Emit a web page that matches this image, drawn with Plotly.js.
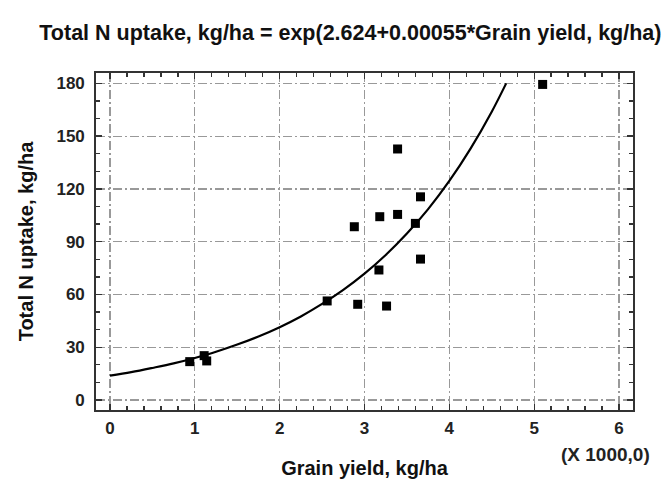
<!DOCTYPE html>
<html>
<head>
<meta charset="utf-8">
<script src="https://cdn.plot.ly/plotly-3.0.1.min.js"></script>
<style>html,body{margin:0;padding:0;background:#fff}#chart{width:670px;height:479px}</style>
</head>
<body>
<div id="chart"></div>
<script>
// Observed points: grain yield (x 1000 kg/ha), total N uptake (kg/ha)
const grainYield = [0.94, 1.14, 1.11, 2.56, 2.92, 3.26, 3.17, 3.66, 2.88, 3.18, 3.39, 3.60, 3.66, 3.39, 5.10];
const nUptake    = [21.8, 22.2, 25.2, 56.3, 54.4, 53.4, 73.9, 80.1, 98.5, 104.2, 105.5, 100.4, 115.5, 142.7, 179.4];

// Fitted curve read along its path
const curveX = [0, 0.25, 0.5, 0.75, 1.0, 1.25, 1.5, 1.75, 2.0, 2.25, 2.5, 2.75, 3.0, 3.25, 3.5, 3.75, 4.0, 4.25, 4.5, 4.67];
const curveY = [13.8, 15.8, 18.2, 20.8, 23.9, 27.4, 31.5, 36.1, 41.4, 47.5, 54.6, 62.6, 71.8, 82.4, 94.6, 108.5, 124.5, 142.9, 163.9, 180.0];

const xTicks = [0, 1, 2, 3, 4, 5, 6];
const yTicks = [0, 30, 60, 90, 120, 150, 180];

const titleText = 'Total N uptake, kg/ha = exp(2.624+0.00055*Grain yield, kg/ha)';
const xTitle = 'Grain yield, kg/ha';
const yTitle = 'Total N uptake, kg/ha';
const xScaleNote = '(X 1000,0)';

const FONT = 'Liberation Sans, Arial, sans-serif';

const traces = [
  {x: curveX, y: curveY, mode: 'lines', type: 'scatter',
   line: {color: '#000', width: 2.2, shape: 'spline'}, hoverinfo: 'skip'},
  {x: grainYield, y: nUptake, mode: 'markers', type: 'scatter',
   marker: {symbol: 'square', size: 9, color: '#000'}}
];

const axisCommon = {
  showline: true, linecolor: '#333', linewidth: 1.8, mirror: 'allticks',
  ticks: 'inside', ticklen: 6, tickwidth: 1.3, tickcolor: '#333',
  showgrid: true, gridcolor: '#999', gridwidth: 1.2, griddash: '9px,3px,2px,3px',
  zeroline: false,
  tickfont: {family: FONT, size: 17, color: '#222', weight: 'bold'}
};
const titleFont = {family: FONT, size: 20, color: '#111', weight: 'bold'};

const layout = {
  width: 670, height: 479,
  margin: {l: 96, r: 37, t: 73, b: 69},
  paper_bgcolor: '#fff', plot_bgcolor: '#fff',
  showlegend: false,
  title: {text: titleText, x: 0.523, xanchor: 'center', y: 0.933, yanchor: 'middle',
          font: {family: FONT, size: 21.5, color: '#111', weight: 'bold'}},
  xaxis: Object.assign({}, axisCommon, {
    range: [-0.165, 6.165], tickvals: xTicks, ticktext: xTicks.map(String),
    minor: {dtick: 0.2, tick0: 0, ticks: 'inside', ticklen: 4, tickcolor: '#333', showgrid: false},
    ticklabelstandoff: 2,
    title: {text: xTitle, standoff: 24, font: titleFont}
  }),
  yaxis: Object.assign({}, axisCommon, {
    range: [-5.7, 185.9], tickvals: yTicks, ticktext: yTicks.map(String),
    minor: {dtick: 10, tick0: 0, ticks: 'inside', ticklen: 4, tickcolor: '#333', showgrid: false},
    ticklabelstandoff: 6,
    title: {text: yTitle, standoff: 17, font: titleFont}
  }),
  annotations: [{
    text: xScaleNote, xref: 'paper', yref: 'paper', x: 1.035, y: -0.1335,
    xanchor: 'right', yanchor: 'middle', showarrow: false,
    font: {family: FONT, size: 19, color: '#222', weight: 'bold'}
  }]
};

Plotly.newPlot('chart', traces, layout, {displayModeBar: false, staticPlot: true});
</script>
</body>
</html>
